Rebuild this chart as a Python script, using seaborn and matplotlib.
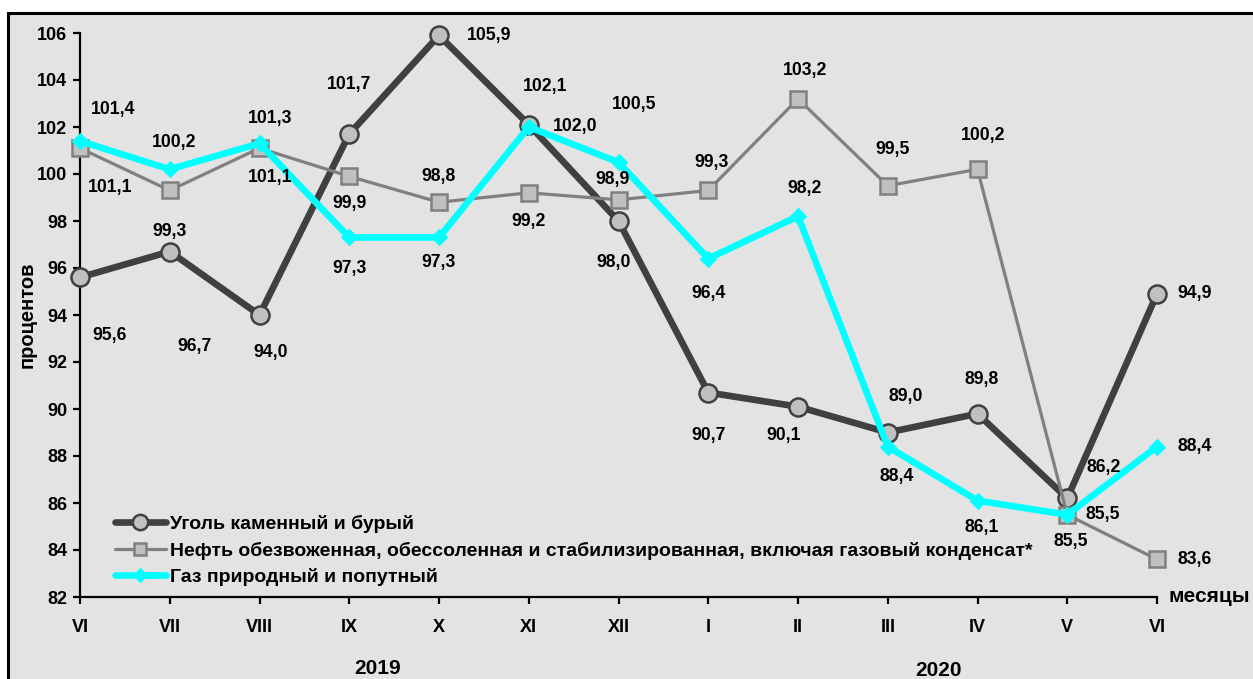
import matplotlib
matplotlib.use("Agg")
import matplotlib.pyplot as plt
from matplotlib.patches import Rectangle
import seaborn as sns

sns.set_theme(style="white")
plt.rcParams['font.family'] = ['Liberation Sans', 'DejaVu Sans']
plt.rcParams['font.weight'] = 'bold'
plt.rcParams['text.color'] = 'black'
plt.rcParams['axes.labelcolor'] = 'black'
plt.rcParams['xtick.color'] = 'black'
plt.rcParams['ytick.color'] = 'black'

# --- DATA ---
months = ["VI", "VII", "VIII", "IX", "X", "XI", "XII", "I", "II", "III", "IV", "V", "VI"]
coal = [95.6, 96.7, 94.0, 101.7, 105.9, 102.1, 98.0, 90.7, 90.1, 89.0, 89.8, 86.2, 94.9]
oil = [101.1, 99.3, 101.1, 99.9, 98.8, 99.2, 98.9, 99.3, 103.2, 99.5, 100.2, 85.5, 83.6]
gas = [101.4, 100.2, 101.3, 97.3, 97.3, 102.0, 100.5, 96.4, 98.2, 88.4, 86.1, 85.5, 88.4]
series_names = ["Уголь каменный и бурый",
                "Нефть обезвоженная, обессоленная и стабилизированная, включая газовый конденсат*",
                "Газ природный и попутный"]

# label offsets in pixels (dx, dy with dy positive = up)
coal_off = [(30, -58), (25, -95), (11, -37), (0, 50), (50, 0), (16, 38), (-5, -42),
            (0, -43), (-14, -29), (18, 36), (4, 34), (36, 31), (38, 0)]
oil_off = [(30, -39), (0, -41), (11, -29), (0, -27), (0, 26), (0, -29), (-6, 20),
           (3, 28), (7, 28), (5, 36), (6, 34), (4, -27), (38, 0)]
gas_off = [(33, 32), (4, 27), (11, 25), (0, -31), (0, -25), (46, 0), (16, 58),
           (0, -35), (7, 28), (9, -30), (4, -27), (36, 0), (38, 0)]

BG = "#e3e3e3"
fig = plt.figure(figsize=(12.53, 6.79), dpi=100)
fig.patch.set_facecolor("white")
fig.patches.append(Rectangle((8 / 1253, -0.1), 1.2, 0.981 + 0.1, transform=fig.transFigure,
                             facecolor=BG, edgecolor="black", linewidth=2.2, zorder=-5))

ax = fig.add_axes([80 / 1253, 1 - 597 / 679, (1157 - 80) / 1253, (597 - 33) / 679])
ax.set_facecolor("none")
x = list(range(len(months)))

sns.lineplot(x=x, y=coal, ax=ax, color="#404040", linewidth=4.8, marker="o", markersize=13,
             markerfacecolor="#c0c0c0", markeredgecolor="#404040", markeredgewidth=1.8,
             label=series_names[0], zorder=3, clip_on=False)
sns.lineplot(x=x, y=oil, ax=ax, color="#808080", linewidth=2.3, marker="s", markersize=11,
             markerfacecolor="#c0c0c0", markeredgecolor="#808080", markeredgewidth=1.8,
             label=series_names[1], zorder=4, clip_on=False)
sns.lineplot(x=x, y=gas, ax=ax, color="#00ffff", linewidth=4.8, marker="D", markersize=8,
             markerfacecolor="#00ffff", markeredgecolor="#00ffff",
             label=series_names[2], zorder=5, clip_on=False)

for vals, offs in [(coal, coal_off), (oil, oil_off), (gas, gas_off)]:
    for i, (v, (dx, dy)) in enumerate(zip(vals, offs)):
        ax.annotate(f"{v:.1f}".replace(".", ","), (i, v), xytext=(dx * 0.72, dy * 0.72),
                    textcoords="offset points", ha="center", va="center",
                    fontsize=12.7, fontweight="bold", color="black", zorder=6,
                    annotation_clip=False)

ax.set_xlim(0, 12)
ax.set_ylim(82, 106)
ax.set_yticks(range(82, 107, 2))
ax.set_xticks(x)
ax.set_xticklabels(months)
for s in ["top", "right"]:
    ax.spines[s].set_visible(False)
for s in ["left", "bottom"]:
    ax.spines[s].set_color("black")
    ax.spines[s].set_linewidth(1.6)
ax.tick_params(axis="y", direction="out", length=5, width=1.6, color="black", labelsize=13, pad=4,
               left=True)
ax.tick_params(axis="x", direction="out", length=5, width=1.6, color="black", labelsize=13, pad=11,
               bottom=True)
for t in ax.get_xticklabels() + ax.get_yticklabels():
    t.set_fontweight("bold")

ax.set_ylabel("процентов", fontsize=14.5, fontweight="bold")
ax.yaxis.set_label_coords(-0.040, 0.5)
ax.text(1.011, 0, "месяцы", transform=ax.transAxes, fontsize=15, fontweight="bold",
        ha="left", va="center")
fig.text(378 / 1253, 1 - 668 / 679, "2019", fontsize=15, fontweight="bold", ha="center", va="center")
fig.text(939 / 1253, 1 - 670 / 679, "2020", fontsize=15, fontweight="bold", ha="center", va="center")

leg = ax.legend(loc="upper left", bbox_to_anchor=(0.0325, 0.145), frameon=False,
                fontsize=14.0, handlelength=2.6, handletextpad=0.25, labelspacing=0.42,
                borderpad=0, borderaxespad=0)
for t in leg.get_texts():
    t.set_fontweight("bold")
for h in leg.get_lines():
    h.set_markersize(h.get_markersize() * 0.85)

fig.savefig("out.png", dpi=100, facecolor=fig.get_facecolor())
